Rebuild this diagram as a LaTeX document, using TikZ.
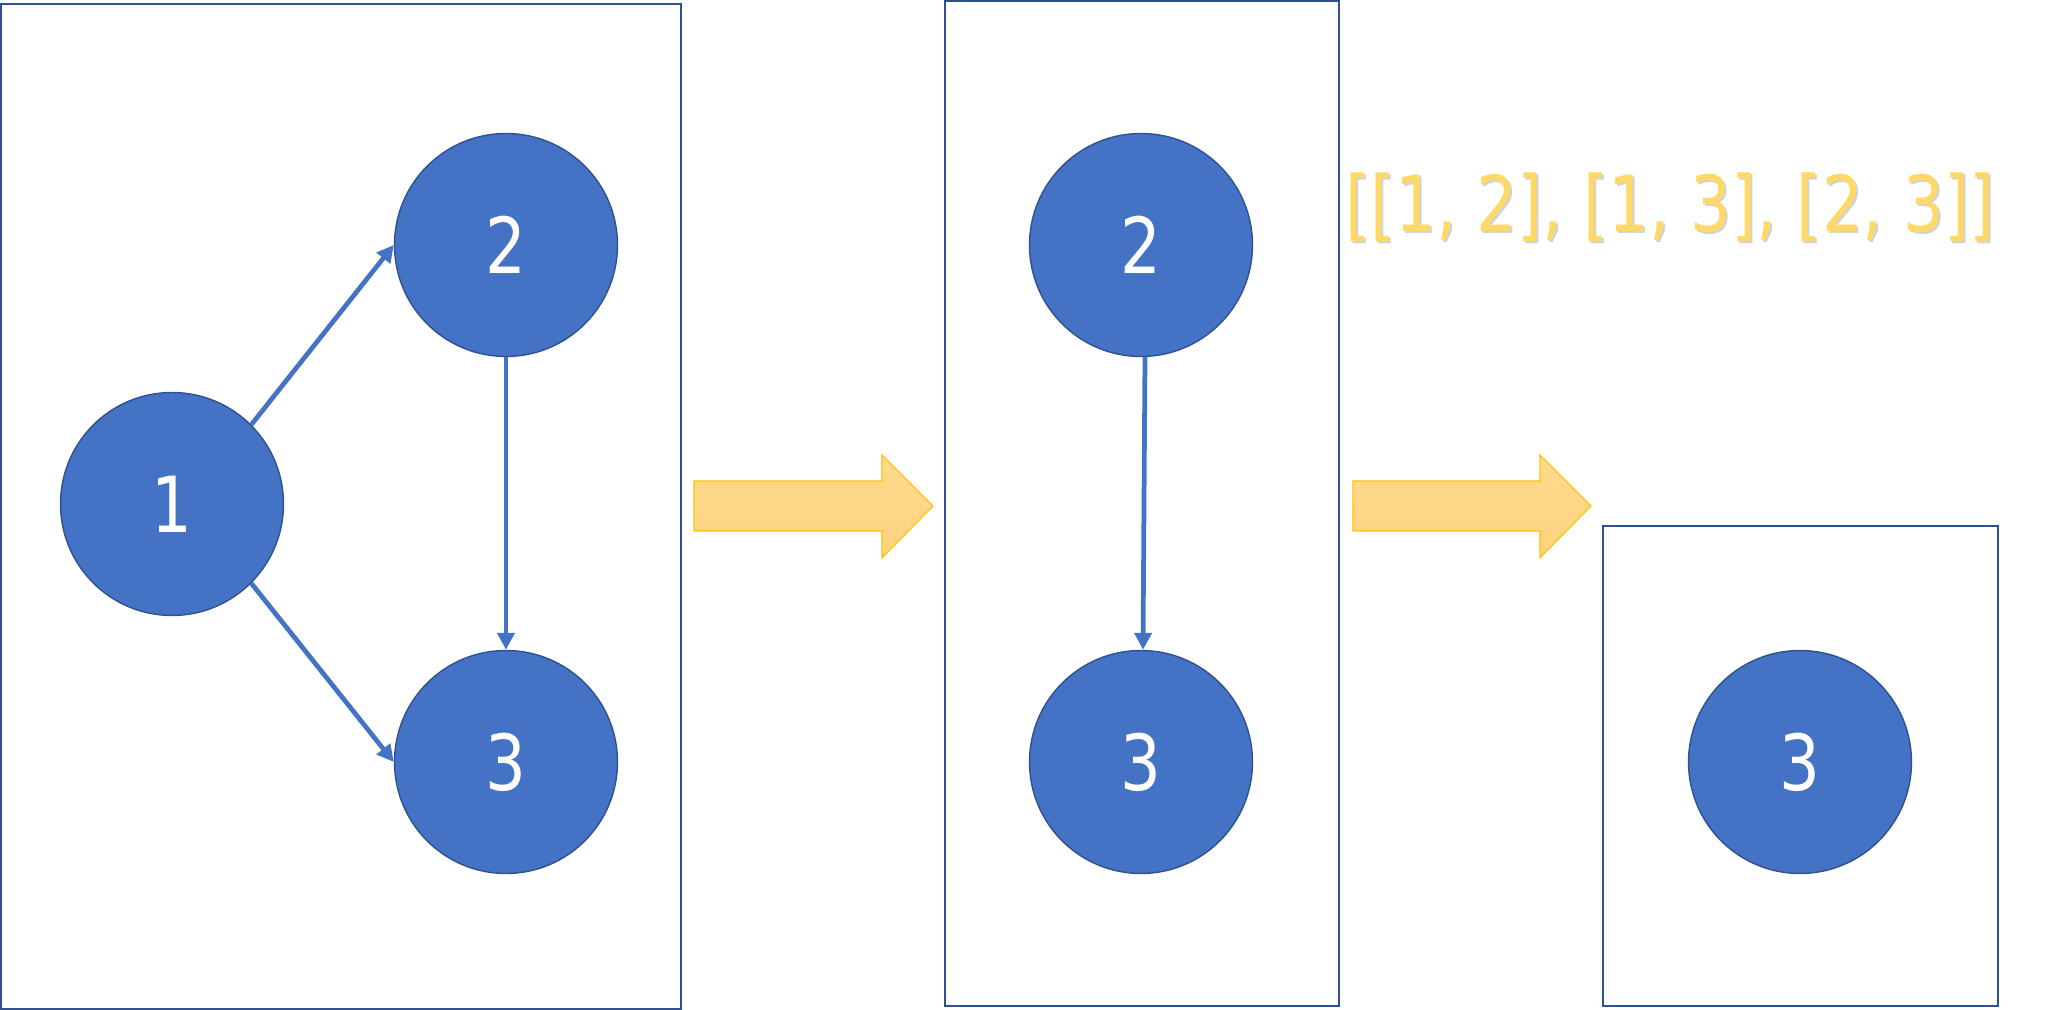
\documentclass[tikz,border=0pt]{standalone}
\usepackage{fontspec}
\setmainfont{DejaVu Sans}
\newfontfamily\numfont[FakeStretch=0.83]{DejaVu Sans}
\usepackage{tikz}
\usetikzlibrary{arrows.meta}
\definecolor{vblue}{HTML}{4472C4}
\definecolor{vdark}{HTML}{2F528F}
\definecolor{flowtop}{HTML}{FFDB8E}
\definecolor{flowbot}{HTML}{FDD27E}
\definecolor{flowline}{HTML}{FFC000}
\definecolor{listcol}{HTML}{FFD966}
\tikzset{
  vertex/.style={circle, fill=vblue, draw=vdark, line width=0.4pt, minimum size=2.23cm, inner sep=0pt, text=white, font=\numfont\fontsize{22}{26}\selectfont},
  edge/.style={vblue, line width=1.35pt, -{Triangle[length=4.8pt,width=4.8pt]}},
  panel/.style={draw=vdark, line width=0.5pt},
  flowarrow/.style={top color=flowtop, bottom color=flowbot, draw=flowline, line width=0.3pt},
  listtext/.style={text=listcol, font=\numfont\fontsize{22}{26}\selectfont, inner sep=0pt}
}

\begin{document}
\begin{tikzpicture}
    \useasboundingbox (0,0) rectangle (20.57,10.10);

    % Step 1: whole graph
    \draw [panel] (0.01,0.01) rectangle (6.81,10.06);
    \node [vertex] (a1) at (1.72,5.06) {1};
    \node [vertex] (a2) at (5.06,7.65) {2};
    \node [vertex] (a3) at (5.06,2.48) {3};
    \draw [edge] (a1.45) -- (a2.west);
    \draw [edge] (a1.-45) -- (a3.west);
    \draw [edge] (a2) -- (a3);

    % Arrow 1
    \draw [flowarrow] (6.94,4.79) -- (8.82,4.79) -- (8.82,4.52) -- (9.33,5.04)
        -- (8.82,5.55) -- (8.82,5.29) -- (6.94,5.29) -- cycle;

    % Step 2: node 1 removed
    \draw [panel] (9.45,0.04) rectangle (13.39,10.09);
    \node [vertex] (b2) at (11.41,7.65) {2};
    \node [vertex] (b3) at (11.41,2.48) {3};
    \draw [edge] ([xshift=0.4mm]b2.south) -- ([xshift=0.2mm]b3.north);

    % Edge list
    \node [listtext, text=black!35, opacity=0.5] (edgeshadow) at (16.72,8.01) {[[1, 2], [1, 3], [2, 3]]};
    \node [listtext] (edgelist) at (16.70,8.03) {[[1, 2], [1, 3], [2, 3]]};

    % Arrow 2
    \draw [flowarrow] (13.53,4.79) -- (15.40,4.79) -- (15.40,4.52) -- (15.91,5.04)
        -- (15.40,5.55) -- (15.40,5.29) -- (13.53,5.29) -- cycle;

    % Step 3: node 2 removed
    \draw [panel] (16.03,0.04) rectangle (19.98,4.84);
    \node [vertex] (c3) at (18.00,2.48) {3};

\end{tikzpicture}
\end{document}
